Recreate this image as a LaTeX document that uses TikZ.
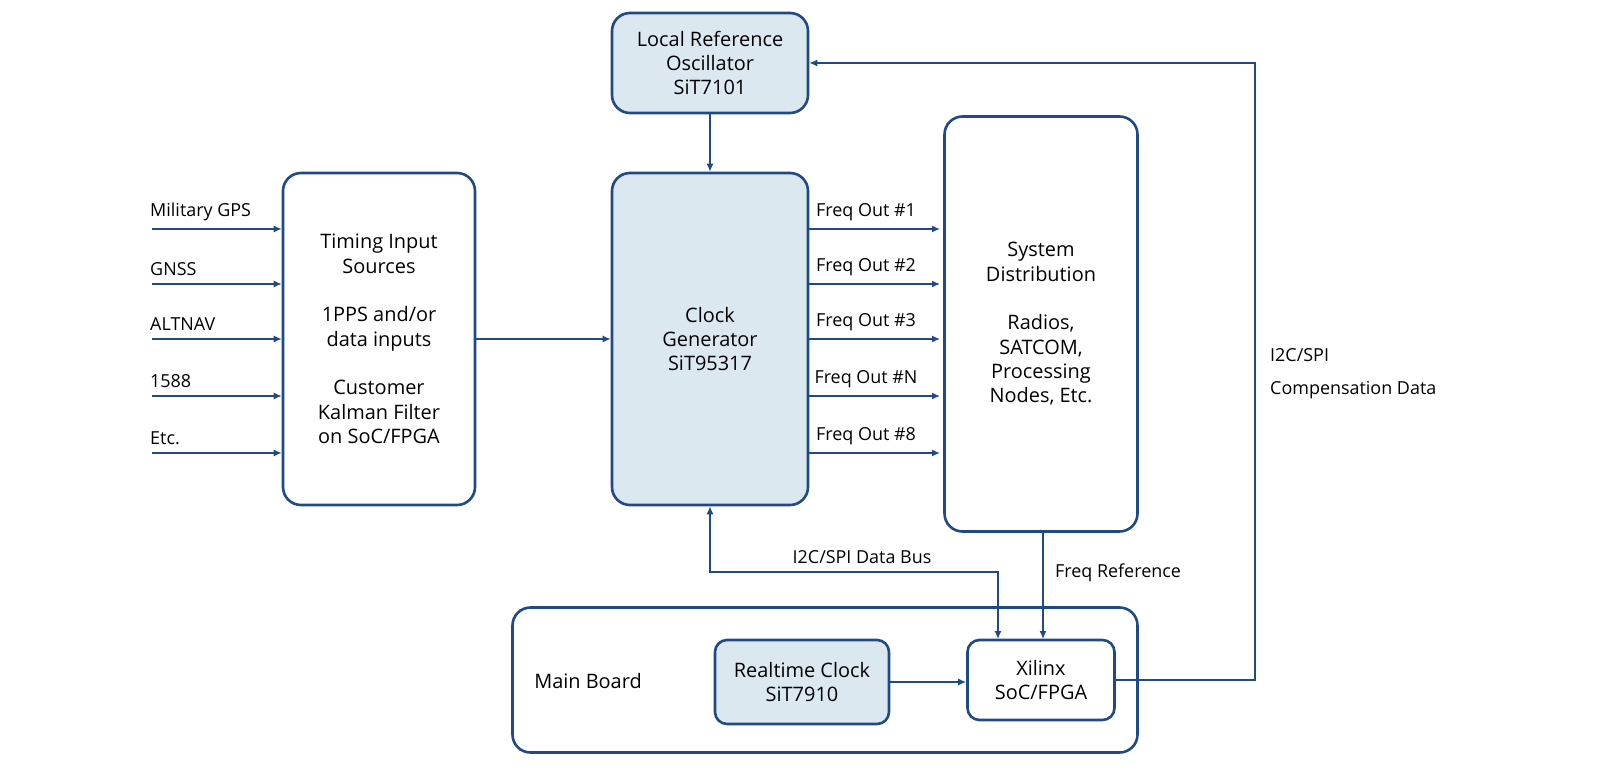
\documentclass[tikz,border=0pt]{standalone}
\usepackage{fontspec}
\setmainfont{Open Sans}
\usetikzlibrary{arrows.meta}
\definecolor{navy}{HTML}{1F4A86}
\definecolor{paleblue}{HTML}{DCE8F0}
\tikzset{
  blk/.style={draw=navy,line width=2.6bp,rounded corners=18bp,align=center,
    font=\fontsize{20}{24.5}\selectfont,inner sep=0pt},
  chip/.style={blk,fill=paleblue},
  sig/.style={draw=navy,line width=1.4bp,-{Latex[length=8bp,width=7bp]}},
  lbl/.style={font=\fontsize{18}{22}\selectfont,inner sep=0pt}
}
\begin{document}
\begin{tikzpicture}[x=1bp,y=-1bp]
  \useasboundingbox (0,0) rectangle (1600,780);
  % boxes
  \node[chip,minimum width=196bp,minimum height=100bp] (osc) at (710,63)
    {Local Reference\\Oscillator\\SiT7101};
  \node[blk,minimum width=192bp,minimum height=332bp] (tis) at (379,339)
    {Timing Input\\Sources\\[24bp]1PPS and/or\\data inputs\\[24bp]Customer\\Kalman Filter\\on SoC/FPGA};
  \node[chip,minimum width=196bp,minimum height=332bp] (gen) at (710,339)
    {Clock\\Generator\\SiT95317};
  \node[blk,minimum width=193bp,minimum height=415bp] (dist) at (1041,324)
    {System\\Distribution\\[24bp]Radios,\\SATCOM,\\Processing\\Nodes, Etc.};
  \node[blk,minimum width=625bp,minimum height=145bp] (board) at (825,680) {};
  \node[lbl,font=\fontsize{20}{24}\selectfont] (mbl) at (588,681) {Main Board};
  \node[chip,rounded corners=12bp,minimum width=174bp,minimum height=84bp] (rtc) at (802,682)
    {Realtime Clock\\SiT7910};
  \node[blk,rounded corners=12bp,minimum width=147bp,minimum height=80bp] (fpga) at (1041,680)
    {Xilinx\\SoC/FPGA};
  % timing inputs
  \foreach \y/\t in {229/Military GPS,284/GNSS,339/ALTNAV,396/1588,453/Etc.}{
    \coordinate (in\y) at (152,\y);
    \draw[sig] (in\y) -- (tis.west |- in\y);
    \node[lbl,anchor=south west] at (150,\y-8) {\t};
  }
  % frequency outputs
  \foreach \y/\t in {229/Freq Out \#1,284/Freq Out \#2,339/Freq Out \#3,396/Freq Out \#N,453/Freq Out \#8}{
    \coordinate (fo\y) at (808,\y);
    \draw[sig] (fo\y) -- (940,\y);
    \node[lbl,anchor=south] at (866,\y-8) {\t};
  }
  \draw[sig] (tis.east |- gen) -- (gen.west);
  \draw[sig] (osc) -- (gen);
  % buses
  \draw[sig,{Latex[length=8bp,width=7bp]}-{Latex[length=8bp,width=7bp]}]
    (gen.south) -- (710,572) -- (998,572) -- (998,639);
  \node[lbl] (dbus) at (862,557) {I2C/SPI Data Bus};
  \draw[sig] (1043,532) -- (1043,639);
  \node[lbl] (fref) at (1118,573) {Freq Reference};
  \draw[sig] (rtc.east) -- (fpga.west |- rtc.east);
  \draw[sig] (fpga.east) -- (1255,680) -- (1255,63) -- (osc.east);
  \node[lbl,anchor=west] (comp1) at (1270,355) {I2C/SPI};
  \node[lbl,anchor=west] (comp2) at (1270,390) {Compensation Data};
\end{tikzpicture}
\end{document}
